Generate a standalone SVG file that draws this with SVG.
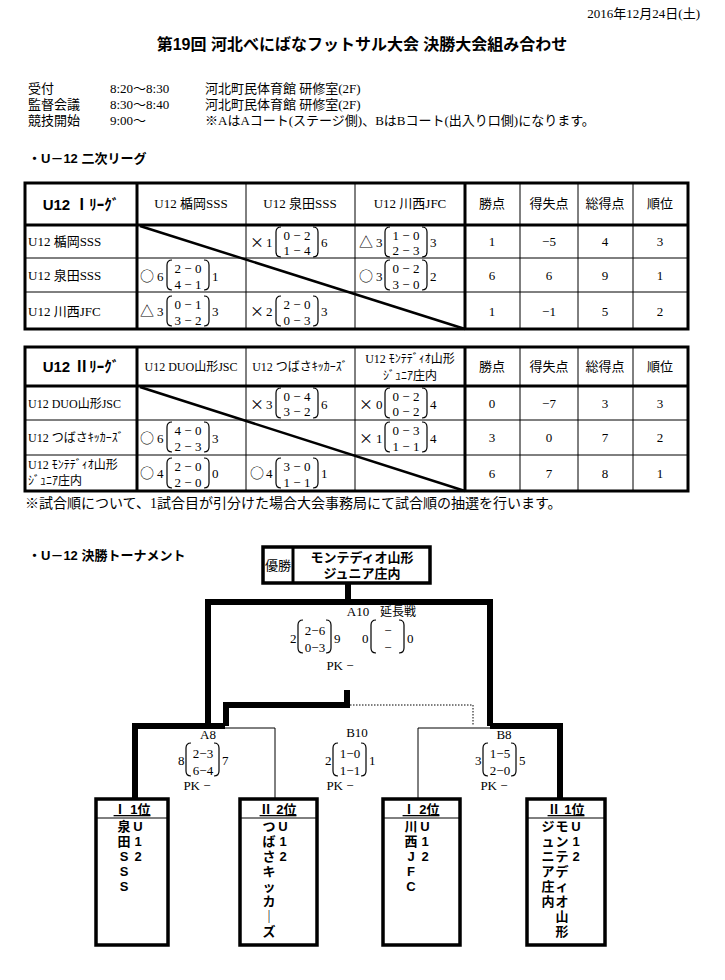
<svg xmlns="http://www.w3.org/2000/svg" xmlns:xlink="http://www.w3.org/1999/xlink" width="725" height="980" viewBox="0 0 725 980">
<style>
text{font-family:"Liberation Serif","Noto Sans CJK JP",serif;font-size:13px;fill:#000}
.b{font-family:"Liberation Sans","Noto Sans CJK JP",sans-serif;font-weight:bold}
.c{text-anchor:middle}
.m{font-family:"Noto Sans CJK JP",sans-serif;font-size:14px}
.thin{stroke:#000;stroke-width:1;fill:none}
.thk{stroke:#000;stroke-width:3;fill:none}
.br{stroke:#000;stroke-width:6;fill:none}
.par{stroke:#000;stroke-width:1.2;fill:none}
.box{fill:#fff;stroke:#000;stroke-width:3.5}
.vt{font-family:"Liberation Sans","Noto Sans CJK JP",sans-serif;font-weight:bold;font-size:13px;text-anchor:middle}
</style>
<defs>
<g id="pp"><path class="par" d="M5,0 Q0,0 0,5 V25 Q0,30 5,30"/><path class="par" d="M37,0 Q42,0 42,5 V25 Q42,30 37,30"/></g>
<g id="sp"><path class="par" d="M5,0 Q0,0 0,5 V28 Q0,33 5,33"/><path class="par" d="M28,0 Q33,0 33,5 V28 Q33,33 28,33"/></g>
</defs>
<g id="header">
<text x="700" y="18" style="text-anchor:end">2016年12月24日(土)</text>
<text x="362" y="50" class="b c" style="font-size:16px">第19回 河北べにばなフットサル大会  決勝大会組み合わせ</text>
<text x="28" y="93">受付</text><text x="110" y="93">8:20～8:30</text><text x="205" y="93">河北町民体育館  研修室(2F)</text>
<text x="28" y="109">監督会議</text><text x="110" y="109">8:30～8:40</text><text x="205" y="109">河北町民体育館  研修室(2F)</text>
<text x="28" y="125">競技開始</text><text x="110" y="125">9:00～</text><text x="205" y="125">※AはAコート(ステージ側)、BはBコート(出入り口側)になります。</text>
<text x="28" y="163" class="b">・U－12 二次リーグ</text>
</g>
<g id="league1">
<rect x="25" y="183" width="663" height="146" class="thk"/>
<line x1="25" y1="225" x2="688" y2="225" class="thk"/>
<path class="thin" d="M25,258H688M25,292H688M246,183V329M355,183V329M520,183V329M578,183V329M633,183V329"/>
<path class="thk" d="M137,183V329M465,183V329"/>
<line x1="140" y1="226" x2="465" y2="329" stroke="#000" stroke-width="2.5"/>
<text x="81" y="210" class="b c" style="font-size:15px">U12 Ⅰﾘｰｸﾞ</text>
<text x="191" y="208" class="c">U12 楯岡SSS</text><text x="300" y="208" class="c">U12 泉田SSS</text><text x="410" y="208" class="c">U12 川西JFC</text>
<text x="492" y="208" class="c">勝点</text><text x="549" y="208" class="c">得失点</text><text x="605" y="208" class="c">総得点</text><text x="660" y="208" class="c">順位</text>
<text x="28" y="246">U12 楯岡SSS</text><text x="28" y="280">U12 泉田SSS</text><text x="28" y="316">U12 川西JFC</text>
<g><text x="250" y="247" class="m">×</text><text x="266" y="247">1</text><use xlink:href="#pp" x="276" y="227"/><text x="297" y="240" class="c">0 − 2</text><text x="297" y="255" class="c">1 − 4</text><text x="321" y="247">6</text></g>
<g><text x="359" y="247" class="m">△</text><text x="376" y="247">3</text><use xlink:href="#pp" x="385" y="227"/><text x="406" y="240" class="c">1 − 0</text><text x="406" y="255" class="c">2 − 3</text><text x="430" y="247">3</text></g>
<g><text x="140" y="281" class="m">○</text><text x="157" y="281">6</text><use xlink:href="#pp" x="167" y="260"/><text x="188" y="273" class="c">2 − 0</text><text x="188" y="289" class="c">4 − 1</text><text x="212" y="281">1</text></g>
<g><text x="359" y="281" class="m">○</text><text x="376" y="281">3</text><use xlink:href="#pp" x="385" y="260"/><text x="406" y="273" class="c">0 − 2</text><text x="406" y="289" class="c">3 − 0</text><text x="430" y="281">2</text></g>
<g><text x="140" y="316" class="m">△</text><text x="157" y="316">3</text><use xlink:href="#pp" x="167" y="296"/><text x="188" y="309" class="c">0 − 1</text><text x="188" y="325" class="c">3 − 2</text><text x="212" y="316">3</text></g>
<g><text x="250" y="316" class="m">×</text><text x="266" y="316">2</text><use xlink:href="#pp" x="276" y="296"/><text x="297" y="309" class="c">2 − 0</text><text x="297" y="325" class="c">0 − 3</text><text x="321" y="316">3</text></g>
<text x="492" y="246" class="c">1</text><text x="549" y="246" class="c">−5</text><text x="605" y="246" class="c">4</text><text x="660" y="246" class="c">3</text>
<text x="492" y="280" class="c">6</text><text x="549" y="280" class="c">6</text><text x="605" y="280" class="c">9</text><text x="660" y="280" class="c">1</text>
<text x="492" y="316" class="c">1</text><text x="549" y="316" class="c">−1</text><text x="605" y="316" class="c">5</text><text x="660" y="316" class="c">2</text>
</g>
<g id="league2">
<rect x="25" y="347" width="663" height="144" class="thk"/>
<line x1="25" y1="386" x2="688" y2="386" class="thk"/>
<path class="thin" d="M25,420H688M25,455H688M246,347V491M355,347V491M520,347V491M578,347V491M633,347V491"/>
<path class="thk" d="M137,347V491M465,347V491"/>
<line x1="140" y1="387" x2="465" y2="491" stroke="#000" stroke-width="2.5"/>
<text x="81" y="372" class="b c" style="font-size:15px">U12 Ⅱﾘｰｸﾞ</text>
<text x="191" y="371" class="c" style="font-size:12px">U12 DUO山形JSC</text><text x="300" y="371" class="c" style="font-size:12px">U12 つばさｷｯｶｰｽﾞ</text>
<text x="410" y="363" class="c" style="font-size:12px">U12 ﾓﾝﾃﾃﾞｨｵ山形</text><text x="410" y="380" class="c" style="font-size:12px">ｼﾞｭﾆｱ庄内</text>
<text x="492" y="371" class="c">勝点</text><text x="549" y="371" class="c">得失点</text><text x="605" y="371" class="c">総得点</text><text x="660" y="371" class="c">順位</text>
<text x="28" y="408" style="font-size:12px">U12 DUO山形JSC</text><text x="28" y="442" style="font-size:12px">U12 つばさｷｯｶｰｽﾞ</text>
<text x="28" y="469" style="font-size:12px">U12 ﾓﾝﾃﾃﾞｨｵ山形</text><text x="28" y="485" style="font-size:12px">ｼﾞｭﾆｱ庄内</text>
<g><text x="250" y="409" class="m">×</text><text x="266" y="409">3</text><use xlink:href="#pp" x="276" y="388"/><text x="297" y="401" class="c">0 − 4</text><text x="297" y="416" class="c">3 − 2</text><text x="321" y="409">6</text></g>
<g><text x="359" y="409" class="m">×</text><text x="376" y="409">0</text><use xlink:href="#pp" x="385" y="388"/><text x="406" y="401" class="c">0 − 2</text><text x="406" y="416" class="c">0 − 2</text><text x="430" y="409">4</text></g>
<g><text x="140" y="443" class="m">○</text><text x="157" y="443">6</text><use xlink:href="#pp" x="167" y="422"/><text x="188" y="435" class="c">4 − 0</text><text x="188" y="451" class="c">2 − 3</text><text x="212" y="443">3</text></g>
<g><text x="359" y="443" class="m">×</text><text x="376" y="443">1</text><use xlink:href="#pp" x="385" y="422"/><text x="406" y="435" class="c">0 − 3</text><text x="406" y="451" class="c">1 − 1</text><text x="430" y="443">4</text></g>
<g><text x="140" y="478" class="m">○</text><text x="157" y="478">4</text><use xlink:href="#pp" x="167" y="458"/><text x="188" y="471" class="c">2 − 0</text><text x="188" y="487" class="c">2 − 0</text><text x="212" y="478">0</text></g>
<g><text x="250" y="478" class="m">○</text><text x="266" y="478">4</text><use xlink:href="#pp" x="276" y="458"/><text x="297" y="471" class="c">3 − 0</text><text x="297" y="487" class="c">1 − 1</text><text x="321" y="478">1</text></g>
<text x="492" y="408" class="c">0</text><text x="549" y="408" class="c">−7</text><text x="605" y="408" class="c">3</text><text x="660" y="408" class="c">3</text>
<text x="492" y="442" class="c">3</text><text x="549" y="442" class="c">0</text><text x="605" y="442" class="c">7</text><text x="660" y="442" class="c">2</text>
<text x="492" y="478" class="c">6</text><text x="549" y="478" class="c">7</text><text x="605" y="478" class="c">8</text><text x="660" y="478" class="c">1</text>
<text x="25" y="508" style="font-size:14px">※試合順について、1試合目が引分けた場合大会事務局にて試合順の抽選を行います。</text>
</g>
<text x="28" y="560" class="b">・U－12  決勝トーナメント</text>
<g id="connectors">
<path class="br" d="M348,583V602M208,602H490M208,599V726M490,599V726M347,690V705H226V726M135,726H225M490,726H563M135,723V800M560,723V800"/>
<path class="thin" d="M140,728H275V800M418,800V728H560"/>
<path d="M347,705H473V726" fill="none" stroke="#000" stroke-width="1" stroke-dasharray="1.5,1.5"/>
</g>
<g id="champion">
<rect x="263" y="547" width="167" height="36" class="box"/>
<line x1="293" y1="547" x2="293" y2="583" class="thk"/>
<text x="278" y="570" class="c" style="font-size:13px">優勝</text>
<text x="362" y="562" class="b c" style="font-size:13px">モンテディオ山形</text>
<text x="362" y="578" class="b c" style="font-size:13px">ジュニア庄内</text>
</g>
<g id="A10">
<text x="358" y="616" class="c">A10</text><text x="398" y="616" class="c" style="font-size:12px">延長戦</text>
<text x="290" y="643">2</text><use xlink:href="#sp" x="298" y="620"/><text x="315" y="635" class="c">2−6</text><text x="315" y="652" class="c">0−3</text><text x="334" y="643">9</text>
<text x="362" y="643">0</text><use xlink:href="#sp" x="371" y="620"/><text x="388" y="635" class="c">−</text><text x="388" y="652" class="c">−</text><text x="407" y="643">0</text>
<text x="340" y="670" class="c">PK  −</text>
</g>
<g id="B10">
<text x="357" y="737" class="c">B10</text>
<text x="325" y="765">2</text><use xlink:href="#sp" x="333" y="743"/><text x="350" y="758" class="c">1−0</text><text x="350" y="775" class="c">1−1</text><text x="369" y="765">1</text>
<text x="340" y="790" class="c">PK  −</text>
</g>
<g id="A8">
<text x="208" y="739" class="c">A8</text>
<text x="178" y="765">8</text><use xlink:href="#sp" x="186" y="743"/><text x="203" y="758" class="c">2−3</text><text x="203" y="775" class="c">6−4</text><text x="222" y="765">7</text>
<text x="197" y="790" class="c">PK  −</text>
</g>
<g id="B8">
<text x="504" y="739" class="c">B8</text>
<text x="475" y="765">3</text><use xlink:href="#sp" x="483" y="743"/><text x="500" y="758" class="c">1−5</text><text x="500" y="775" class="c">2−0</text><text x="519" y="765">5</text>
<text x="494" y="790" class="c">PK  −</text>
</g>
<g id="team1">
<rect x="96" y="799" width="72" height="146" class="box"/><line x1="96" y1="818" x2="168" y2="818" class="thin"/>
<text x="132" y="814" class="b c" style="text-decoration:underline">Ⅰ 1位</text>
<text class="vt" x="138" y="831">U</text><text class="vt" x="138" y="846">1</text><text class="vt" x="138" y="861">2</text>
<text class="vt" x="124" y="831">泉</text><text class="vt" x="124" y="846">田</text><text class="vt" x="124" y="861">S</text><text class="vt" x="124" y="876">S</text><text class="vt" x="124" y="891">S</text>
</g>
<g id="team2">
<rect x="240" y="799" width="77" height="146" class="box"/><line x1="240" y1="818" x2="317" y2="818" class="thin"/>
<text x="278" y="814" class="b c" style="text-decoration:underline">Ⅱ 2位</text>
<text class="vt" x="283" y="831">U</text><text class="vt" x="283" y="846">1</text><text class="vt" x="283" y="861">2</text>
<text class="vt" x="269" y="831">つ</text><text class="vt" x="269" y="846">ば</text><text class="vt" x="269" y="861">さ</text><text class="vt" x="269" y="876">キ</text><text class="vt" x="269" y="891">ッ</text><text class="vt" x="269" y="906">カ</text><text class="vt" x="269" y="921">｜</text><text class="vt" x="269" y="936">ズ</text>
</g>
<g id="team3">
<rect x="383" y="799" width="77" height="146" class="box"/><line x1="383" y1="818" x2="460" y2="818" class="thin"/>
<text x="421" y="814" class="b c" style="text-decoration:underline">Ⅰ 2位</text>
<text class="vt" x="425" y="831">U</text><text class="vt" x="425" y="846">1</text><text class="vt" x="425" y="861">2</text>
<text class="vt" x="411" y="831">川</text><text class="vt" x="411" y="846">西</text><text class="vt" x="411" y="861">J</text><text class="vt" x="411" y="876">F</text><text class="vt" x="411" y="891">C</text>
</g>
<g id="team4">
<rect x="527" y="799" width="78" height="146" class="box"/><line x1="527" y1="818" x2="605" y2="818" class="thin"/>
<text x="566" y="814" class="b c" style="text-decoration:underline">Ⅱ 1位</text>
<text class="vt" x="576" y="831">U</text><text class="vt" x="576" y="846">1</text><text class="vt" x="576" y="861">2</text>
<text class="vt" x="562" y="831">モ</text><text class="vt" x="562" y="846">ン</text><text class="vt" x="562" y="861">テ</text><text class="vt" x="562" y="876">デ</text><text class="vt" x="562" y="891">ィ</text><text class="vt" x="562" y="906">オ</text><text class="vt" x="562" y="921">山</text><text class="vt" x="562" y="936">形</text>
<text class="vt" x="548" y="831">ジ</text><text class="vt" x="548" y="846">ュ</text><text class="vt" x="548" y="861">ニ</text><text class="vt" x="548" y="876">ア</text><text class="vt" x="548" y="891">庄</text><text class="vt" x="548" y="906">内</text>
</g>
</svg>
